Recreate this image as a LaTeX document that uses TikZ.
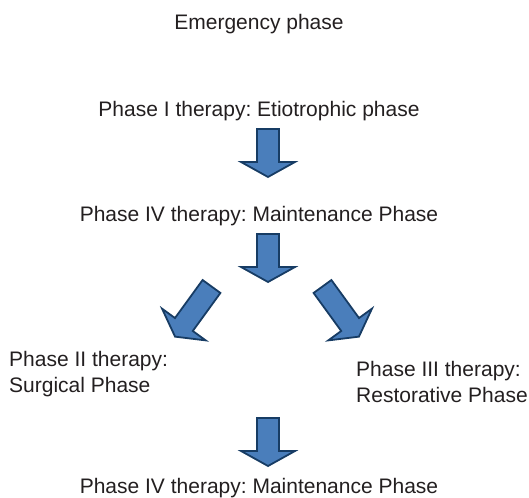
\documentclass[tikz,border=0pt]{standalone}
\usepackage{fontspec}
\setmainfont{Liberation Sans}
\frenchspacing
\definecolor{arrowfill}{RGB}{74,126,187}
\definecolor{arrowline}{RGB}{23,60,100}
\definecolor{txt}{RGB}{35,31,32}
\begin{document}
\begin{tikzpicture}[x=1pt,y=1pt,
  label/.style={inner sep=0pt,text=txt,font=\fontsize{21}{26}\selectfont},
  arrowbody/.style={fill=arrowfill,draw=arrowline,line width=1.8pt,line join=miter},
  pics/barrow/.style={code={
    \draw[arrowbody] (0,-11) -- ({#1-15},-11) -- ({#1-15},-27) -- (#1,0)
      -- ({#1-15},27) -- ({#1-15},11) -- (0,11) -- cycle;}}]
\useasboundingbox (0,0) rectangle (529,497);
% texts
\node[label,anchor=base] (emerg) at (259,467) {Emergency phase};
\node[label,anchor=base] (p1) at (259,380) {Phase I therapy: Etiotrophic phase};
\node[label,anchor=base] (p4a) at (259,275) {Phase IV therapy: Maintenance Phase};
\node[label,anchor=base west,align=left] (p2) at (9,104) {Phase II therapy:\\Surgical Phase};
\node[label,anchor=base west,align=left] (p3) at (356,94) {Phase III therapy:\\Restorative Phase};
\node[label,anchor=base] (p4b) at (259,4) {Phase IV therapy: Maintenance Phase};
% block arrows
\pic[rotate=-90] at (268,368) {barrow=48};
\pic[rotate=-90] at (268,263) {barrow=48};
\pic[rotate=234] at (211.5,210.5) {barrow=62};
\pic[rotate=306] at (322.5,210.5) {barrow=62};
\pic[rotate=-90] at (268,79) {barrow=48};
\end{tikzpicture}
\end{document}
